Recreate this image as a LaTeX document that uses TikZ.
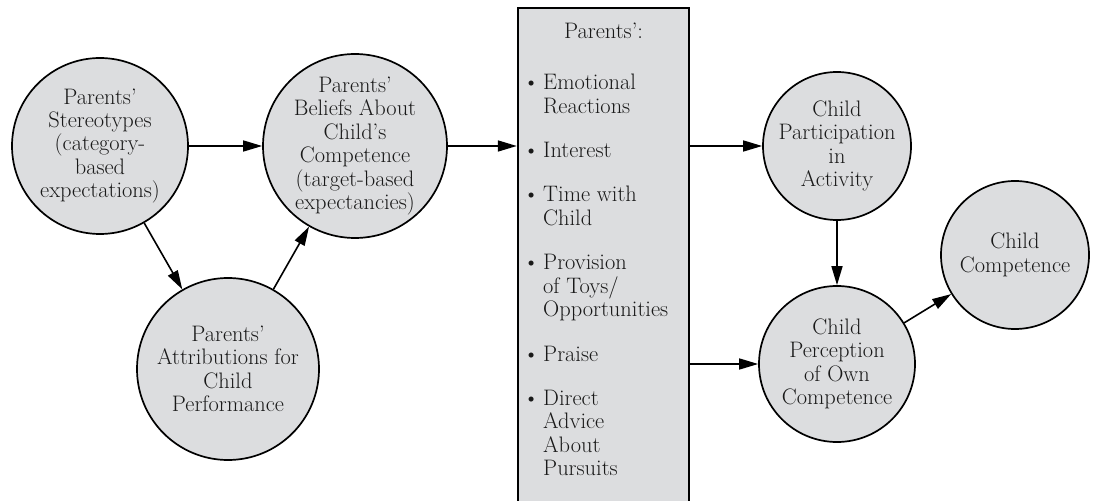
\documentclass[tikz,border=0pt]{standalone}
\usepackage{tikz}
\usetikzlibrary{positioning,arrows.meta}
\definecolor{nodegray}{RGB}{220,221,223}
\newcommand{\bul}{\llap{\textbullet\hspace{4bp}}}
\tikzset{
  flowarrow/.style={-{Triangle[length=19bp,width=11bp]}, line width=1.6bp},
  bubble/.style={circle, draw, line width=1.7bp, fill=nodegray, inner sep=-4bp, align=center},
  listbox/.style={draw, line width=2.4bp, fill=nodegray, minimum width=171bp, minimum height=512bp},
  listtext/.style={align=left, inner sep=0pt}
}
\begin{document}
\begin{tikzpicture}[x=1bp, y=-1bp, every node/.style={font=\fontsize{22.5}{23.5}\selectfont, text=black!90}]
  \useasboundingbox (0,0) rectangle (1094,501);
  \node[bubble, minimum size=176bp] (stereo) at (100,146) {Parents'\\Stereotypes\\(category-\\based\\expectations)};
  \node[bubble, minimum size=184bp] (beliefs) at (355,146) {Parents'\\Beliefs About\\Child's\\Competence\\(target-based\\expectancies)};
  \node[bubble, minimum size=182bp] (attrib) at (228,369) {Parents'\\Attributions for\\Child\\Performance};
  \node[listbox] (acts) at (603.5,264) {};
  \node[anchor=base] (actshead) at (603.5,39) {Parents':};
  \node[listtext, anchor=north west] (actsitems) at (543,74) {\bul Emotional\\Reactions\\[21bp]
    \bul Interest\\[21bp]
    \bul Time with\\Child\\[21bp]
    \bul Provision\\of Toys/\\Opportunities\\[21bp]
    \bul Praise\\[21bp]
    \bul Direct\\Advice\\About\\Pursuits};
  \node[bubble, minimum size=148bp] (part) at (837,146) {Child\\Participation\\in\\Activity};
  \node[bubble, minimum size=156bp] (perc) at (837,364) {Child\\Perception\\of Own\\Competence};
  \node[bubble, minimum size=148bp] (comp) at (1015,255) {Child\\Competence};
  \draw[flowarrow] (stereo) -- (beliefs);
  \draw[flowarrow] (stereo) -- (attrib);
  \draw[flowarrow] (attrib) -- (beliefs);
  \draw[flowarrow] (beliefs) -- (beliefs -| acts.west);
  \draw[flowarrow] (acts.east |- part) -- (part);
  \draw[flowarrow] (acts.east |- perc) -- (perc);
  \draw[flowarrow] (part) -- (perc);
  \draw[flowarrow] (perc) -- (comp);
\end{tikzpicture}
\end{document}
